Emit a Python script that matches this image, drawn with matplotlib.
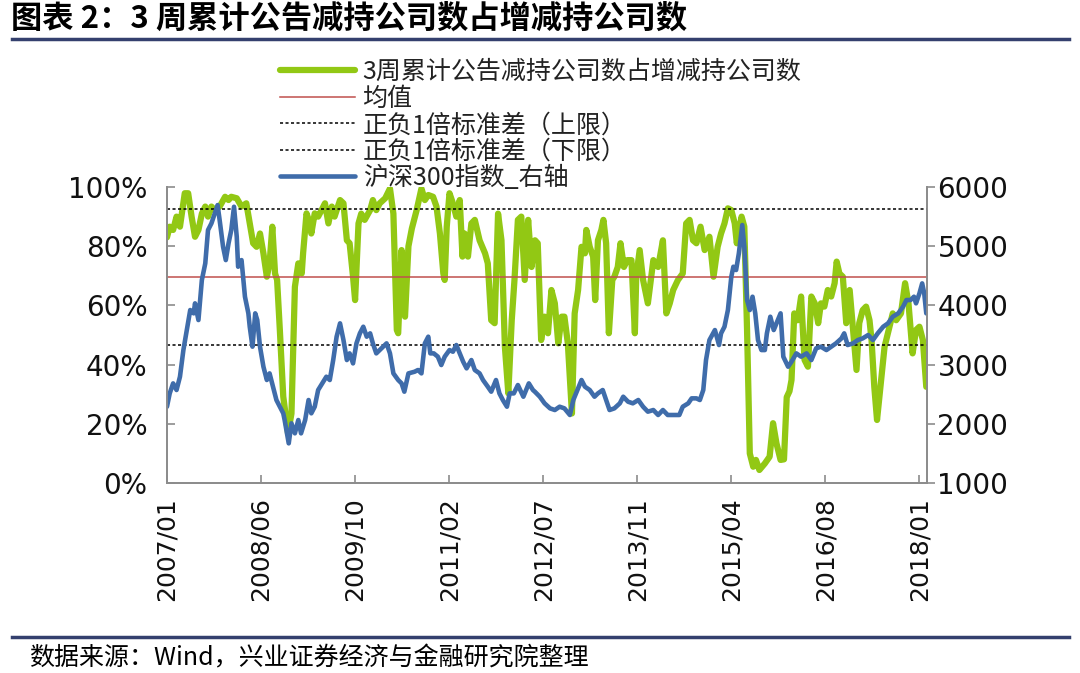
import matplotlib
matplotlib.use("Agg")
import matplotlib.pyplot as plt
from matplotlib.lines import Line2D
from matplotlib.ticker import FuncFormatter
import numpy as np

plt.rcParams['font.family'] = ['Noto Sans CJK SC', 'DejaVu Sans']

# ---------------- data ----------------
green_year = [2007.00, 2007.04, 2007.09, 2007.14, 2007.19, 2007.26, 2007.31, 2007.36, 2007.41, 2007.46,
              2007.51, 2007.56, 2007.60, 2007.65, 2007.70, 2007.77, 2007.85, 2007.90, 2007.94, 2008.02,
              2008.09, 2008.16, 2008.21, 2008.26, 2008.31, 2008.36, 2008.41, 2008.46, 2008.50, 2008.54,
              2008.58, 2008.61, 2008.65, 2008.70, 2008.74, 2008.77, 2008.82, 2008.87, 2008.92, 2008.97,
              2008.99, 2009.04, 2009.09, 2009.11, 2009.16, 2009.21, 2009.26, 2009.31, 2009.36, 2009.41,
              2009.45, 2009.53, 2009.58, 2009.63, 2009.67, 2009.72, 2009.75, 2009.80, 2009.84, 2009.89,
              2009.97, 2010.01, 2010.06, 2010.11, 2010.19, 2010.26, 2010.31, 2010.36, 2010.38, 2010.43,
              2010.48, 2010.53, 2010.58, 2010.65, 2010.72, 2010.77, 2010.82, 2010.89, 2010.94, 2010.99,
              2011.04, 2011.06, 2011.09, 2011.13, 2011.18, 2011.23, 2011.28, 2011.32, 2011.35, 2011.40,
              2011.45, 2011.50, 2011.57, 2011.65, 2011.69, 2011.74, 2011.79, 2011.84, 2011.89, 2011.94,
              2011.99, 2012.04, 2012.08, 2012.13, 2012.18, 2012.23, 2012.28, 2012.33, 2012.38, 2012.42,
              2012.47, 2012.52, 2012.57, 2012.62, 2012.67, 2012.72, 2012.77, 2012.81, 2012.86, 2012.92,
              2012.96, 2013.01, 2013.06, 2013.11, 2013.13, 2013.18, 2013.23, 2013.26, 2013.30, 2013.35,
              2013.38, 2013.42, 2013.46, 2013.51, 2013.54, 2013.59, 2013.63, 2013.68, 2013.73, 2013.79,
              2013.84, 2013.86, 2013.91, 2013.96, 2014.03, 2014.11, 2014.18, 2014.25, 2014.30, 2014.35,
              2014.40, 2014.47, 2014.54, 2014.59, 2014.64, 2014.69, 2014.74, 2014.80, 2014.86, 2014.93,
              2014.99, 2015.05, 2015.10, 2015.15, 2015.20, 2015.25, 2015.30, 2015.33, 2015.40, 2015.44,
              2015.48, 2015.52, 2015.57, 2015.61, 2015.66, 2015.74, 2015.81, 2015.86, 2015.91, 2015.97,
              2016.02, 2016.06, 2016.10, 2016.13, 2016.17, 2016.22, 2016.27, 2016.32, 2016.37, 2016.42,
              2016.47, 2016.52, 2016.56, 2016.61, 2016.66, 2016.71, 2016.76, 2016.79, 2016.83, 2016.88,
              2016.93, 2016.98, 2017.03, 2017.08, 2017.12, 2017.17, 2017.22, 2017.27, 2017.30, 2017.34,
              2017.38, 2017.44, 2017.49, 2017.55, 2017.61, 2017.66, 2017.73, 2017.79, 2017.84, 2017.90,
              2017.95, 2018.00, 2018.05, 2018.10]
green_pct = [83.0, 86.6, 85.5, 90.0, 86.6, 97.9, 97.9, 90.0, 83.2, 85.5,
             91.0, 93.4, 90.0, 93.4, 92.2, 93.4, 96.7, 95.6, 96.7, 96.2,
             93.4, 94.5, 87.7, 81.0, 79.8, 84.3, 77.6, 69.7, 74.2, 86.6,
             70.8, 68.6, 51.7, 29.2, 22.0, 16.8, 23.5, 66.3, 74.2, 70.8,
             77.6, 91.1, 87.7, 84.3, 91.1, 90.0, 92.2, 94.5, 87.7, 93.4,
             90.0, 95.6, 94.5, 82.0, 81.0, 69.7, 61.8, 87.7, 91.0, 88.9,
             92.2, 95.6, 92.2, 94.5, 96.2, 99.5, 91.0, 51.7, 50.6, 78.7,
             56.2, 80.0, 86.0, 92.2, 99.5, 95.6, 97.3, 96.7, 93.4, 84.3,
             70.8, 68.6, 86.6, 97.9, 94.5, 90.0, 95.6, 76.5, 84.3, 76.5,
             87.7, 88.9, 82.0, 77.6, 74.2, 55.0, 54.0, 91.0, 82.0, 46.0,
             30.3, 55.0, 68.6, 88.9, 90.0, 68.6, 88.9, 73.0, 82.0, 81.0,
             48.3, 56.2, 50.6, 65.2, 60.7, 47.2, 56.2, 56.2, 47.2, 23.5,
             57.3, 65.2, 79.8, 77.6, 85.5, 79.8, 76.5, 61.8, 82.0, 85.5,
             88.9, 81.0, 50.6, 68.6, 69.7, 73.0, 81.0, 73.0, 75.3, 75.3,
             50.6, 69.7, 78.7, 68.6, 60.7, 75.3, 73.0, 82.0, 57.3, 60.7,
             65.2, 68.6, 70.8, 87.7, 88.9, 82.0, 81.0, 86.6, 78.7, 83.2,
             69.7, 79.8, 84.3, 87.7, 92.8, 92.2, 87.7, 81.0, 90.0, 86.6,
             51.7, 10.0, 5.5, 7.8, 4.4, 6.6, 8.9, 20.2, 13.4, 7.8,
             8.0, 29.0, 31.0, 34.8, 57.3, 55.0, 63.0, 41.6, 39.3, 63.0,
             60.7, 54.0, 60.7, 59.6, 65.2, 63.0, 67.5, 74.8, 70.8, 69.7,
             54.0, 65.2, 51.7, 38.2, 54.0, 58.4, 59.6, 55.0, 48.3, 32.5,
             21.3, 34.8, 46.0, 51.7, 57.3, 55.0, 57.3, 67.5, 60.7, 43.8,
             51.7, 52.8, 48.3, 32.5]

hs300_year = [2007.00, 2007.04, 2007.09, 2007.14, 2007.19, 2007.24, 2007.29, 2007.34, 2007.39, 2007.41,
              2007.46, 2007.51, 2007.56, 2007.60, 2007.65, 2007.70, 2007.74, 2007.77, 2007.82, 2007.86,
              2007.90, 2007.94, 2007.98, 2008.02, 2008.04, 2008.09, 2008.14, 2008.19, 2008.21, 2008.25,
              2008.29, 2008.32, 2008.36, 2008.41, 2008.46, 2008.50, 2008.55, 2008.60, 2008.65, 2008.70,
              2008.72, 2008.78, 2008.82, 2008.87, 2008.92, 2008.96, 2009.02, 2009.07, 2009.11, 2009.16,
              2009.21, 2009.27, 2009.33, 2009.38, 2009.43, 2009.48, 2009.53, 2009.58, 2009.63, 2009.67,
              2009.72, 2009.77, 2009.82, 2009.87, 2009.92, 2009.97, 2010.01, 2010.06, 2010.11, 2010.16,
              2010.21, 2010.26, 2010.31, 2010.38, 2010.43, 2010.47, 2010.53, 2010.62, 2010.67, 2010.72,
              2010.77, 2010.82, 2010.85, 2010.90, 2010.96, 2011.01, 2011.06, 2011.13, 2011.18, 2011.23,
              2011.28, 2011.33, 2011.38, 2011.45, 2011.50, 2011.57, 2011.62, 2011.69, 2011.74, 2011.81,
              2011.86, 2011.91, 2011.97, 2012.01, 2012.07, 2012.13, 2012.21, 2012.29, 2012.35, 2012.38,
              2012.45, 2012.52, 2012.60, 2012.67, 2012.74, 2012.81, 2012.89, 2012.94, 2013.01, 2013.06,
              2013.11, 2013.18, 2013.25, 2013.30, 2013.37, 2013.42, 2013.47, 2013.54, 2013.62, 2013.67,
              2013.74, 2013.81, 2013.89, 2013.96, 2014.03, 2014.11, 2014.18, 2014.25, 2014.32, 2014.40,
              2014.49, 2014.54, 2014.62, 2014.67, 2014.74, 2014.79, 2014.84, 2014.88, 2014.93, 2015.01,
              2015.07, 2015.10, 2015.15, 2015.20, 2015.25, 2015.28, 2015.32, 2015.36, 2015.41, 2015.44,
              2015.48, 2015.52, 2015.56, 2015.60, 2015.64, 2015.69, 2015.74, 2015.77, 2015.82, 2015.87,
              2015.91, 2015.97, 2016.01, 2016.08, 2016.13, 2016.20, 2016.27, 2016.35, 2016.42, 2016.49,
              2016.56, 2016.64, 2016.71, 2016.78, 2016.86, 2016.90, 2016.95, 2017.03, 2017.10, 2017.17,
              2017.25, 2017.32, 2017.39, 2017.47, 2017.54, 2017.61, 2017.69, 2017.76, 2017.81, 2017.87,
              2017.92, 2017.95, 2018.00, 2018.04, 2018.07, 2018.10]
hs300_value = [2289, 2514, 2683, 2571, 2796, 3246, 3584, 3922, 3866, 4035,
               3753, 4429, 4710, 5273, 5386, 5555, 5695, 5442, 4992, 4766,
               5048, 5273, 5667, 5161, 4654, 4766, 4147, 3866, 3640, 3303,
               3866, 3753, 3303, 2965, 2740, 2852, 2627, 2402, 2289, 2177,
               2064, 1670, 2008, 1839, 2064, 1839, 2064, 2402, 2177, 2289,
               2571, 2683, 2796, 2740, 3077, 3472, 3697, 3415, 3077, 3190,
               3021, 3359, 3528, 3640, 3472, 3528, 3359, 3190, 3246, 3303,
               3359, 3190, 2852, 2740, 2683, 2543, 2852, 2880, 2909, 2852,
               3359, 3472, 3190, 3190, 3134, 2993, 3134, 3246, 3218, 3331,
               3190, 3049, 2937, 3077, 2909, 2852, 2740, 2627, 2543, 2740,
               2514, 2402, 2289, 2514, 2514, 2655, 2458, 2683, 2571, 2540,
               2458, 2346, 2261, 2233, 2289, 2261, 2149, 2402, 2599, 2740,
               2627, 2571, 2458, 2514, 2571, 2402, 2233, 2261, 2346, 2458,
               2374, 2346, 2402, 2289, 2205, 2233, 2149, 2233, 2149, 2149,
               2149, 2289, 2346, 2430, 2430, 2402, 2571, 3077, 3415, 3584,
               3331, 3528, 3640, 3922, 4485, 4654, 4598, 4879, 5358, 4992,
               4091, 3922, 4147, 3866, 3415, 3246, 3246, 3528, 3809, 3584,
               3697, 3866, 3134, 2965, 3049, 3190, 3134, 3190, 3077, 3275,
               3303, 3246, 3303, 3359, 3443, 3528, 3331, 3359, 3415, 3443,
               3500, 3415, 3528, 3640, 3697, 3809, 3866, 3978, 4091, 4091,
               4147, 4035, 4204, 4372, 4204, 3866]

mean_pct = 69.6
std_pct = 23.1

tick_labels = ['2007/01', '2008/06', '2009/10', '2011/02', '2012/07',
               '2013/11', '2015/04', '2016/08', '2018/01']

series_label = '3周累计公告减持公司数占增减持公司数'
mean_label = '均值'
upper_label = '正负1倍标准差（上限）'
lower_label = '正负1倍标准差（下限）'
hs300_label = '沪深300指数_右轴'

title_text = '图表 2：3 周累计公告减持公司数占增减持公司数'
source_text = '数据来源：Wind，兴业证券经济与金融研究院整理'

# ---------------- style ----------------
GREEN = '#92C814'
BLUE = '#3F6CAA'
RED = '#C0504D'
SPINE = '#8C8C8C'
NAVY = '#34406E'

fig = plt.figure(figsize=(10.8, 6.73), dpi=100)
ax = fig.add_axes([0.1546, 0.2823, 0.7037, 0.4398])
ax2 = ax.twinx()

l_green, = ax.plot(green_year, green_pct, color=GREEN, lw=4.5,
                   solid_joinstyle='round', solid_capstyle='round', zorder=2)
l_mean = ax.axhline(mean_pct, color=RED, lw=1.1, zorder=3)
l_up = ax.axhline(mean_pct + std_pct, color='black', lw=1.1, ls=(0, (2, 1.6)), zorder=3)
l_low = ax.axhline(mean_pct - std_pct, color='black', lw=1.1, ls=(0, (2, 1.6)), zorder=3)
l_blue, = ax2.plot(hs300_year, hs300_value, color=BLUE, lw=3.3,
                   solid_joinstyle='round', solid_capstyle='round')

ax.set_xlim(2007.0, 2018.11)
ax.set_ylim(0, 100)
ax2.set_ylim(1000, 6000)

ax.set_yticks(np.arange(0, 101, 20))
ax.yaxis.set_major_formatter(FuncFormatter(lambda v, p: f'{v:.0f}%'))
ax2.set_yticks(np.arange(1000, 6001, 1000))

tick_pos = np.linspace(2007.0, 2018.0, len(tick_labels))
ax.set_xticks(tick_pos)
ax.set_xticklabels(tick_labels, rotation=90, fontsize=18, family='DejaVu Sans', color='#111111')

for a in (ax, ax2):
    a.spines['top'].set_visible(False)
    for s in ('left', 'right', 'bottom'):
        a.spines[s].set_color(SPINE)
        a.spines[s].set_linewidth(1.3)

ax.tick_params(axis='y', direction='in', length=6, width=1.2, color=SPINE,
               labelsize=20, pad=14, labelcolor='#111111')
ax.tick_params(axis='x', direction='in', length=6, width=1.2, color=SPINE, pad=10)
ax2.tick_params(axis='y', direction='out', length=6, width=1.2, color=SPINE,
                labelsize=20, pad=1.5, labelcolor='#111111')
for lab in ax.get_yticklabels() + ax2.get_yticklabels():
    lab.set_family('DejaVu Sans')

fig.legend([l_green, l_mean, l_up, l_low, l_blue],
           [series_label, mean_label, upper_label, lower_label, hs300_label],
           loc='upper left', bbox_to_anchor=(0.2593, 0.912), frameon=False,
           fontsize=18, handlelength=3.0, handletextpad=0.3, labelspacing=0.02,
           borderaxespad=0, borderpad=0, labelcolor='#222222')

fig.text(0.010, 0.9725, title_text, fontsize=22.5, fontweight='bold', va='center', ha='left', color='black')
fig.add_artist(Line2D([0.011, 0.99], [0.942, 0.942], color=NAVY, lw=2.5, transform=fig.transFigure))
fig.add_artist(Line2D([0.011, 0.99], [0.0535, 0.0535], color=NAVY, lw=2.5, transform=fig.transFigure))
fig.text(0.027, 0.022, source_text, fontsize=18, va='center', ha='left', color='black')

fig.savefig('out.png', dpi=100)
